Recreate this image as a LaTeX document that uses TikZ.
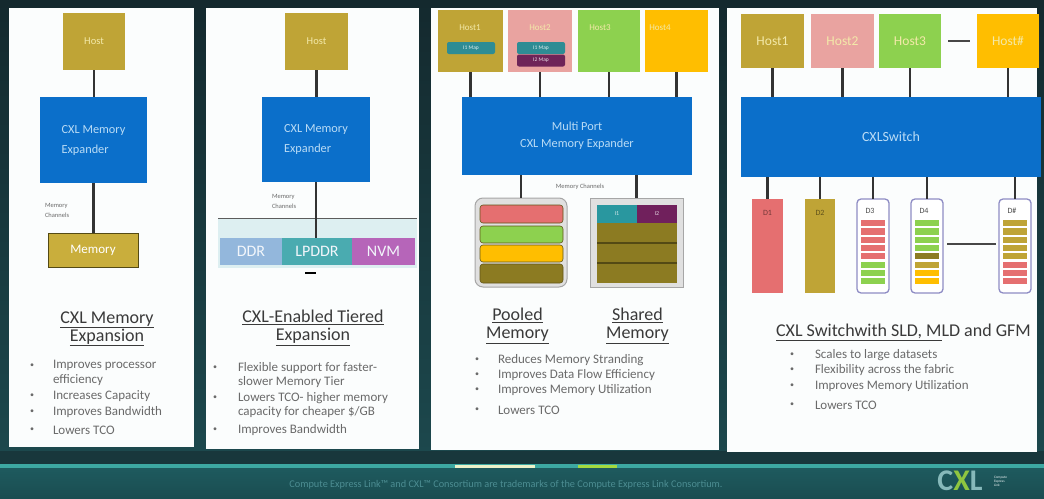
\documentclass[tikz,border=0pt]{standalone}
\usepackage{fontspec}
\setmainfont{Carlito}
\usetikzlibrary{calc}
\definecolor{bgtop}{HTML}{14292E}
\definecolor{bgbot}{HTML}{1D4B50}
\definecolor{foota}{HTML}{1E5A5E}
\definecolor{footb}{HTML}{1A4D51}
\definecolor{panelc}{HTML}{FBFDFD}
\definecolor{olivec}{HTML}{BFA436}
\definecolor{goldc}{HTML}{C9AE3C}
\definecolor{bluec}{HTML}{0B6FCA}
\definecolor{pinkc}{HTML}{E9A3A0}
\definecolor{greenc}{HTML}{8DD14F}
\definecolor{orangec}{HTML}{FFBE00}
\definecolor{redc}{HTML}{E56F70}
\definecolor{darkolive}{HTML}{8C7B22}
\definecolor{tealc}{HTML}{2E8C94}
\definecolor{plumc}{HTML}{6E2458}
\definecolor{ddrc}{HTML}{93B7DC}
\definecolor{lpddrc}{HTML}{4AABB0}
\definecolor{nvmc}{HTML}{B665B9}
\definecolor{bandc}{HTML}{DDEFF1}
\definecolor{hosttxt}{HTML}{F3E9A9}
\definecolor{bluetxt}{HTML}{BADCF6}
\definecolor{titlec}{HTML}{3A3A3A}
\definecolor{bodyc}{HTML}{6A6A6A}
\definecolor{wirec}{HTML}{333333}
\definecolor{frame}{HTML}{8E8CC4}
\definecolor{stripec}{HTML}{3DA8A2}
\definecolor{foottxt}{HTML}{4C8D92}
\definecolor{logoc}{HTML}{86B9BA}
\definecolor{logox}{HTML}{8FC640}
\begin{document}
\begin{tikzpicture}[x=1pt,y=-1pt,
  every node/.style={inner sep=0pt,outer sep=0pt},
  hostbox/.style={fill=#1,text=hosttxt,font=\fontsize{10.5}{12}\selectfont},
  bluebox/.style={fill=bluec,text=bluetxt,font=\fontsize{12.3}{20}\selectfont},
  wire/.style={draw=wirec,line width=2.6pt},
  gapline/.style={draw=wirec!90,line width=2.8pt},
  chlabel/.style={text=bodyc,font=\fontsize{6.5}{10}\selectfont,align=left,anchor=west},
  ttl/.style={text=titlec,font=\fontsize{18}{18}\selectfont,align=center},
  bul/.style={text=bodyc,font=\fontsize{8}{10}\selectfont},
  btxt/.style={text=bodyc,font=\fontsize{13}{14.5}\selectfont,align=left,anchor=west},
  tierbox/.style={text=white!88!ddrc,font=\fontsize{16}{16}\selectfont},
  pill/.style={fill=#1,rounded corners=2pt,text=white!85!#1,font=\fontsize{5.5}{6}\selectfont},
  layer/.style={fill=#1,draw=darkolive!70!black,line width=0.6pt,rounded corners=3pt},
  dev/.style={draw=frame,line width=1.3pt,fill=white,rounded corners=4pt},
  devlab/.style={font=\fontsize{8}{8}\selectfont}
]
\useasboundingbox (0,0) rectangle (1044,498);

% slide background and footer band
\shade[top color=bgtop,bottom color=bgbot] (0,0) rectangle (1044,498);
\fill[bgtop!60!bgbot] (0,451) rectangle (1044,464);
\shade[top color=foota,bottom color=footb] (0,468) rectangle (1044,498);
\fill[stripec] (0,464) rectangle (1044,468);
\fill[white!80!yellow!90!stripec] (455,464.5) rectangle (535,467.5);
\fill[greenc!80!yellow] (578,464.5) rectangle (617,467.5);

% four white panels
\fill[panelc] (9,8) rectangle (194,447);
\fill[panelc] (206,8) rectangle (419,449);
\fill[panelc] (431,8) rectangle (719,450);
\fill[panelc] (727,8) rectangle (1037,452);

% ---------- panel 1: memory expansion ----------
\node[hostbox=olivec,minimum width=62pt,minimum height=57pt] (h1) at (94,41.5) {Host};
\node[bluebox,minimum width=107pt,minimum height=86pt,align=left] (e1) at (93.5,140) {CXL Memory\\Expander};
\node[fill=goldc,draw=darkolive!60!black,line width=0.9pt,minimum width=90pt,minimum height=34pt,
      text=white,font=\fontsize{13}{13}\selectfont] (m1) at (93,250) {Memory};
\draw[wire] (h1.south) -- (h1.south |- e1.north);
\draw[wire] (e1.south) -- (e1.south |- m1.north);
\node[chlabel] (c1) at (45,210) {Memory\\Channels};
\node[ttl] (t1) at (107,329) {\underline{CXL Memory}\\\underline{Expansion}};
\node[bul] (b1a) at (32,366) {•};
\node[btxt] (i1a) at (53,373) {Improves processor\\efficiency};
\node[bul] (b1b) at (32,396) {•};
\node[btxt] (i1b) at (53,396) {Increases Capacity};
\node[bul] (b1c) at (32,412) {•};
\node[btxt] (i1c) at (53,412) {Improves Bandwidth};
\node[bul] (b1d) at (32,430) {•};
\node[btxt] (i1d) at (53,430) {Lowers TCO};

% ---------- panel 2: tiered expansion ----------
\node[hostbox=olivec,minimum width=63pt,minimum height=57pt] (h2) at (316.5,41.5) {Host};
\node[bluebox,minimum width=108pt,minimum height=85pt,align=left] (e2) at (316,139.5) {CXL Memory\\Expander};
\fill[bandc] (218,218) rectangle (417,268);
\draw[wirec!80,line width=0.8pt] (218,218) -- (417,218);
\node[tierbox,fill=ddrc,minimum width=62pt,minimum height=27pt] (ddr) at (251,251.5) {DDR};
\node[tierbox,fill=lpddrc,minimum width=70pt,minimum height=27pt] (lpddr) at (317,251.5) {LPDDR};
\node[tierbox,fill=nvmc,minimum width=63pt,minimum height=27pt] (nvm) at (383.5,251.5) {NVM};
\fill[black] (305,271.5) rectangle (316,274);
\draw[wire] (h2.south) -- (h2.south |- e2.north);
\draw[wire] (e2.south) -- (e2.south |- lpddr.north);
\node[chlabel] (c2) at (272,201) {Memory\\Channels};
\node[ttl] (t2) at (313,328) {\underline{CXL-Enabled Tiered}\\\underline{Expansion}};
\node[bul] (b2a) at (215,368) {•};
\node[btxt] (i2a) at (238,375) {Flexible support for faster-\\slower Memory Tier};
\node[bul] (b2b) at (215,398) {•};
\node[btxt] (i2b) at (238,405) {Lowers TCO- higher memory\\capacity for cheaper \$/GB};
\node[bul] (b2c) at (215,430) {•};
\node[btxt] (i2c) at (238,430) {Improves Bandwidth};

% ---------- panel 3: pooled and shared memory ----------
\node[hostbox=olivec,minimum width=65pt,minimum height=62pt,anchor=center] (p1) at (470.5,41) {};
\node[hostbox=pinkc,minimum width=64pt,minimum height=62pt] (p2) at (540,41) {};
\node[hostbox=greenc,minimum width=62pt,minimum height=62pt] (p3) at (609,41) {};
\node[hostbox=orangec,minimum width=63pt,minimum height=62pt] (p4) at (676.5,41) {};
\node[text=hosttxt,font=\fontsize{9}{9}\selectfont] (p1l) at (470,28) {Host1};
\node[text=hosttxt,font=\fontsize{9}{9}\selectfont] (p2l) at (540,28) {Host2};
\node[text=hosttxt,font=\fontsize{9}{9}\selectfont] (p3l) at (600,28) {Host3};
\node[text=hosttxt,font=\fontsize{9}{9}\selectfont] (p4l) at (660,28) {Host4};
\node[pill=tealc,minimum width=48pt,minimum height=12pt] (q1) at (471,48) {I1 Map};
\node[pill=tealc,minimum width=48pt,minimum height=12pt] (q2) at (541,48) {I1 Map};
\node[pill=plumc,minimum width=48pt,minimum height=12pt] (q3) at (541,60.5) {I2 Map};
\node[bluebox,minimum width=230pt,minimum height=78pt,align=center,font=\fontsize{12.3}{17}\selectfont] (e3) at (577,136) {Multi Port\\CXL Memory Expander};
\foreach \h in {p1,p2,p3,p4} \draw[wire] (\h.south) -- (\h.south |- e3.north);
\node[fill=black!12,draw=black!35,line width=1pt,rounded corners=8pt,minimum width=92pt,minimum height=89pt] (pool) at (521,242.5) {};
\node[fill=black!12,draw=black!35,line width=1pt,minimum width=93pt,minimum height=89pt] (share) at (636.5,242.5) {};
\draw[wire] (pool.north |- e3.south) -- (pool.north);
\draw[wire] (share.north |- e3.south) -- (share.north);
\node[text=bodyc,font=\fontsize{6.5}{7}\selectfont] (c3) at (580,187) {Memory Channels};
% pooled layers
\draw[layer=redc] (480,205) rectangle (563,223);
\draw[layer=greenc] (480,226) rectangle (563,243);
\draw[layer=orangec] (480,245) rectangle (563,262);
\draw[layer=darkolive] (480,264) rectangle (563,283);
% shared regions
\fill[darkolive] (597,223) rectangle (677,283);
\draw[darkolive!60!black,line width=1.2pt] (597,243) -- (677,243) (597,263) -- (677,263);
\node[fill=tealc!90!cyan,minimum width=40pt,minimum height=18pt,text=white!80!tealc,font=\fontsize{6}{6}\selectfont] (s1) at (617,214) {I1};
\node[fill=plumc!90!violet,minimum width=40pt,minimum height=18pt,text=white!80!plumc,font=\fontsize{6}{6}\selectfont] (s2) at (657,214) {I2};
\node[ttl] (t3a) at (517.5,326) {\underline{Pooled}\\\underline{Memory}};
\node[ttl] (t3b) at (637.5,326) {\underline{Shared}\\\underline{Memory}};
\node[bul] (b3a) at (477,360) {•};
\node[btxt] (i3a) at (498,360) {Reduces Memory Stranding};
\node[bul] (b3b) at (477,375) {•};
\node[btxt] (i3b) at (498,375) {Improves Data Flow Efficiency};
\node[bul] (b3c) at (477,390) {•};
\node[btxt] (i3c) at (498,390) {Improves Memory Utilization};
\node[bul] (b3d) at (477,410) {•};
\node[btxt] (i3d) at (498,410) {Lowers TCO};

% ---------- panel 4: switch with SLD, MLD and GFM ----------
\node[hostbox=olivec,minimum width=63pt,minimum height=54pt,font=\fontsize{13.5}{13.5}\selectfont] (s4h1) at (772.5,41) {Host1};
\node[hostbox=pinkc,minimum width=63pt,minimum height=54pt,font=\fontsize{13.5}{13.5}\selectfont] (s4h2) at (842.5,41) {Host2};
\node[hostbox=greenc,minimum width=62pt,minimum height=54pt,font=\fontsize{13.5}{13.5}\selectfont] (s4h3) at (910,41) {Host3};
\node[hostbox=orangec,minimum width=62pt,minimum height=54pt,font=\fontsize{13.5}{13.5}\selectfont] (s4hn) at (1008,41) {Host\#};
\coordinate (g1) at ($(s4h3.east)+(7,0)$);
\coordinate (g2) at ($(s4hn.west)+(-7,0)$);
\draw[gapline] (g1) -- (g2);
\node[bluebox,minimum width=300pt,minimum height=80pt,font=\fontsize{14}{14}\selectfont] (sw) at (891,137) {CXLSwitch};
\foreach \h in {s4h1,s4h2,s4h3,s4hn} \draw[wire] (\h.south) -- (\h.south |- sw.north);
\node[fill=redc,minimum width=31pt,minimum height=94pt] (d1) at (767.5,246) {};
\node[fill=olivec,minimum width=30pt,minimum height=94pt] (d2) at (820,246) {};
\node[dev,minimum width=32pt,minimum height=94pt] (d3) at (873,246) {};
\node[dev,minimum width=32pt,minimum height=94pt] (d4) at (927,246) {};
\node[dev,minimum width=32pt,minimum height=94pt] (dn) at (1015,246) {};
\foreach \d in {d1,d2,d3,d4,dn} \draw[wire] (\d.north |- sw.south) -- (\d.north);
\node[devlab,text=redc!50!black] (d1l) at (767.5,213) {D1};
\node[devlab,text=olivec!50!black] (d2l) at (820,213) {D2};
\node[devlab,text=black!70] (d3l) at (870,211) {D3};
\node[devlab,text=black!70] (d4l) at (924,211) {D4};
\node[devlab,text=black!70] (dnl) at (1012,211) {D\#};
\foreach \c [count=\i from 0] in {redc,redc,redc,redc,redc,greenc,greenc,greenc}
  \fill[\c] (861,220+\i*8.3) rectangle ++(24,6.2);
\foreach \c [count=\i from 0] in {greenc,greenc,greenc,greenc,darkolive,olivec,orangec,orangec}
  \fill[\c] (915,220+\i*8.3) rectangle ++(24,6.2);
\foreach \c [count=\i from 0] in {olivec,olivec,olivec,olivec,olivec,redc,redc,redc}
  \fill[\c] (1003,220+\i*8.3) rectangle ++(24,6.2);
\coordinate (g3) at ($(d4.east)+(4,-2)$);
\coordinate (g4) at ($(dn.west)+(-3,-2)$);
\draw[gapline,line width=2.4pt] (g3) -- (g4);
\node[text=titlec,font=\fontsize{18}{18}\selectfont] (t4) at (903.5,332) {\underline{CXL Switchwith SLD, M}LD and GFM};
\node[bul] (b4a) at (792,355) {•};
\node[btxt] (i4a) at (815,355) {Scales to large datasets};
\node[bul] (b4b) at (792,370) {•};
\node[btxt] (i4b) at (815,370) {Flexibility across the fabric};
\node[bul] (b4c) at (792,386) {•};
\node[btxt] (i4c) at (815,386) {Improves Memory Utilization};
\node[bul] (b4d) at (792,405) {•};
\node[btxt] (i4d) at (815,405) {Lowers TCO};

% ---------- footer ----------
\node[text=foottxt,font=\fontsize{10.3}{11}\selectfont] (foot) at (506,485)
  {Compute Express Link™ and CXL™ Consortium are trademarks of the Compute Express Link Consortium.};
\node[font=\fontsize{30}{30}\selectfont\bfseries] (logo) at (960,481)
  {\textcolor{logoc}{C}\textcolor{logox}{X}\textcolor{logoc}{L}};
\node[text=white!85!logoc,font=\fontsize{3.5}{4}\selectfont,align=left,anchor=west] (logot) at (994,481)
  {Compute\\Express\\Link};
\end{tikzpicture}
\end{document}
